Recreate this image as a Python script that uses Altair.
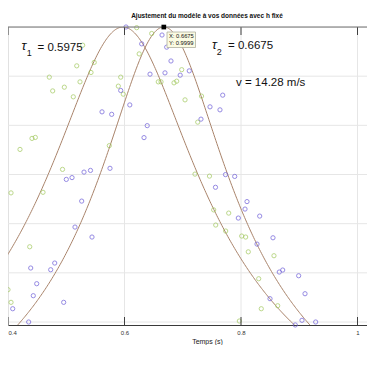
import altair as alt
import pandas as pd
import numpy as np

# ---- data ----
green_t = [0.518, 0.548, 0.5425, 0.4709, 0.4967, 0.5236, 0.4767, 0.5121, 0.5282, 0.5935,
           0.5894, 0.5979, 0.4412, 0.4469, 0.4206, 0.5739, 0.4936, 0.6467, 0.6209, 0.6252,
           0.6982, 0.6896, 0.685, 0.658, 0.6627, 0.7322, 0.7039, 0.7257, 0.721, 0.7459,
           0.4052, 0.4601, 0.7531, 0.7789, 0.7566, 0.7737, 0.8012, 0.808, 0.4373, 0.4,
           0.4052, 0.8125, 0.8566, 0.8304, 0.863, 0.8348, 0.7971]
green_y = [0.921, 0.928, 0.9075, 0.898, 0.8776, 0.8884, 0.870, 0.858, 0.963, 0.898,
           0.8797, 0.8634, 0.7734, 0.7754, 0.751, 0.7587, 0.7104, 0.9868, 0.9986, 0.9453,
           0.9132, 0.8898, 0.8864, 0.8884, 0.8884, 0.8594, 0.8518, 0.8065, 0.7008, 0.6967,
           0.6626, 0.6638, 0.628, 0.6215, 0.5972, 0.585, 0.5748, 0.5728, 0.553, 0.4657,
           0.44, 0.5427, 0.5348, 0.488, 0.4331, 0.427, 0.402]

blue_t = [0.6026, 0.6644, 0.6295, 0.6724, 0.6798, 0.6438, 0.6695, 0.7112, 0.6956, 0.5935,
          0.5614, 0.578, 0.6091, 0.7686, 0.7468, 0.7639, 0.7313, 0.639, 0.6335, 0.5751,
          0.5305, 0.5416, 0.5001, 0.5099, 0.7734, 0.7892, 0.7562, 0.5265, 0.8103, 0.8069,
          0.7954, 0.8321, 0.515, 0.5442, 0.8549, 0.8275, 0.4802, 0.439, 0.4733, 0.8657,
          0.8716, 0.899, 0.4493, 0.9099, 0.4434, 0.4956, 0.8498, 0.4081, 0.4355, 0.9047,
          0.9282, 0.8932]
blue_y = [1.0, 0.9837, 0.9657, 0.959, 0.9309, 0.9041, 0.9067, 0.9108, 0.902, 0.8709,
          0.8274, 0.8224, 0.8415, 0.8614, 0.8376, 0.8315, 0.8126, 0.7994, 0.775, 0.7126,
          0.7049, 0.7083, 0.69, 0.6937, 0.6998, 0.6961, 0.674, 0.6459, 0.6449, 0.6297,
          0.6114, 0.6154, 0.5931, 0.5728, 0.5713, 0.5585, 0.5199, 0.5098, 0.5063, 0.5016,
          0.5057, 0.4941, 0.4779, 0.4575, 0.4535, 0.44, 0.4474, 0.427, 0.40, 0.4035,
          0.40, 0.394]

# fitted model parameters (shown on the chart)
tau1 = 0.5975
tau2 = 0.6675
v = 14.28
h1 = 1.80   # model: y = h / sqrt(h^2 + (v (t - tau))^2)
h2 = 1.535

x_ticks = [0.4, 0.6, 0.8, 1.0]
y_grid = [0.4, 0.5, 0.6, 0.7, 0.8, 0.9, 1.0]

tip_x = 0.6675
tip_y = 0.9999

# ---- tables ----
pts = pd.concat([
    pd.DataFrame({"t": green_t, "y": green_y, "s": "g"}),
    pd.DataFrame({"t": blue_t, "y": blue_y, "s": "b"}),
])
tt = np.linspace(0.37, 1.05, 400)
curves = pd.concat([
    pd.DataFrame({"t": tt, "y": h1 / np.sqrt(h1**2 + (v * (tt - tau1))**2), "c": "1"}),
    pd.DataFrame({"t": tt, "y": h2 / np.sqrt(h2**2 + (v * (tt - tau2))**2), "c": "2"}),
])

W, H = 359, 298
XD = [0.4, 0.4 + 359 / 582.5]
YD = [0.3939, 1.0]

xs = alt.Scale(domain=XD, nice=False, zero=False)
ys = alt.Scale(domain=YD, nice=False, zero=False)

x_axis = alt.Axis(values=x_ticks, format="~g", grid=False, ticks=False,
                  domainColor="#3a3a3a", domainWidth=1,
                  labelFont="Liberation Sans", labelFontSize=6, labelColor="#333333",
                  labelPadding=4, title="Temps (s)", titleFont="Liberation Sans",
                  titleFontSize=7, titleFontWeight="normal", titleColor="#222222",
                  titlePadding=2, titleX=199)

def X(f="t:Q"):
    return alt.X(f, scale=xs, axis=x_axis)

def Y(f="y:Q"):
    return alt.Y(f, scale=ys, axis=None)

grid = alt.Chart(pd.DataFrame({"t": x_ticks})).mark_rule(color="#e6e6e6", strokeWidth=1).encode(
    x=X(),
)
hgrid = alt.Chart(pd.DataFrame({"y": y_grid})).mark_rule(color="#e6e6e6", strokeWidth=1).encode(
    y=Y(),
)

lines = alt.Chart(curves).mark_line(clip=True, color="#a9836a", strokeWidth=1).encode(
    x=X(), y=Y(), detail="c:N",
)

points = alt.Chart(pts).mark_point(shape="circle", size=18, strokeWidth=1, filled=False).encode(
    x=X(), y=Y(),
    color=alt.Color("s:N", scale=alt.Scale(domain=["g", "b"], range=["#a0c85a", "#6a5ad8"]), legend=None),
)

tickdf = pd.DataFrame({"t": x_ticks})
ticks_bottom = alt.Chart(tickdf).mark_rule(color="#404040", strokeWidth=1).encode(
    x=X(), y=alt.value(H - 8), y2=alt.value(H))
ticks_top = alt.Chart(tickdf).mark_rule(color="#404040", strokeWidth=1).encode(
    x=X(), y=alt.value(0), y2=alt.value(8))
top_border = alt.Chart(pd.DataFrame({"a": [0]})).mark_rule(color="#7a7a7a", strokeWidth=1).encode(
    x=alt.value(0), x2=alt.value(W), y=alt.value(0))

def txt(s, x, y, size, **kw):
    return alt.Chart(pd.DataFrame({"s": [s]})).mark_text(
        align="left", baseline="alphabetic", fontSize=size, font="Liberation Sans",
        color="#111111", **kw).encode(text="s:N", x=alt.value(x), y=alt.value(y))

annots = [
    txt("τ", 13.5, 23, 13, fontStyle="italic"),
    txt("1", 18.8, 28.5, 9),
    txt("= 0.5975", 29.5, 23.5, 11.5),
    txt("τ", 204, 21.5, 13, fontStyle="italic"),
    txt("2", 208.8, 27.5, 9),
    txt("= 0.6675", 220, 21.5, 11.5),
    txt("v = 14.28 m/s", 228, 59, 11.5),
]

tipbox = alt.Chart(pd.DataFrame({"a": [0]})).mark_rect(
    fill="#fbfbe2", stroke="#b0b0a0", strokeWidth=0.8).encode(
    x=alt.value(159), x2=alt.value(187.5), y=alt.value(5), y2=alt.value(20.5))
tip_txt = [
    txt("X: 0.6675", 161, 11, 5.8),
    txt("Y: 0.9999", 161, 18.2, 5.8),
]
tipmark = alt.Chart(pd.DataFrame({"t": [tip_x], "y": [tip_y]})).mark_square(
    color="black", size=22, opacity=1).encode(x=X(), y=Y())

chart = alt.layer(
    grid, hgrid, lines, points, ticks_bottom, ticks_top, top_border,
    *annots, tipbox, *tip_txt, tipmark
).properties(
    width=W, height=H,
    title=alt.TitleParams("Ajustement du modèle à vos données avec h fixé", font="Liberation Sans",
                          fontSize=6.5, fontWeight="bold", color="#111111", anchor="middle",
                          dx=19.5, offset=3),
    autosize=alt.AutoSizeParams(type="none"),
    padding={"left": 0, "top": 19, "right": 0, "bottom": 20},
).configure_view(stroke=None).configure(background="white")

chart.save("out.html", embed_options={"renderer": "svg", "actions": False})
